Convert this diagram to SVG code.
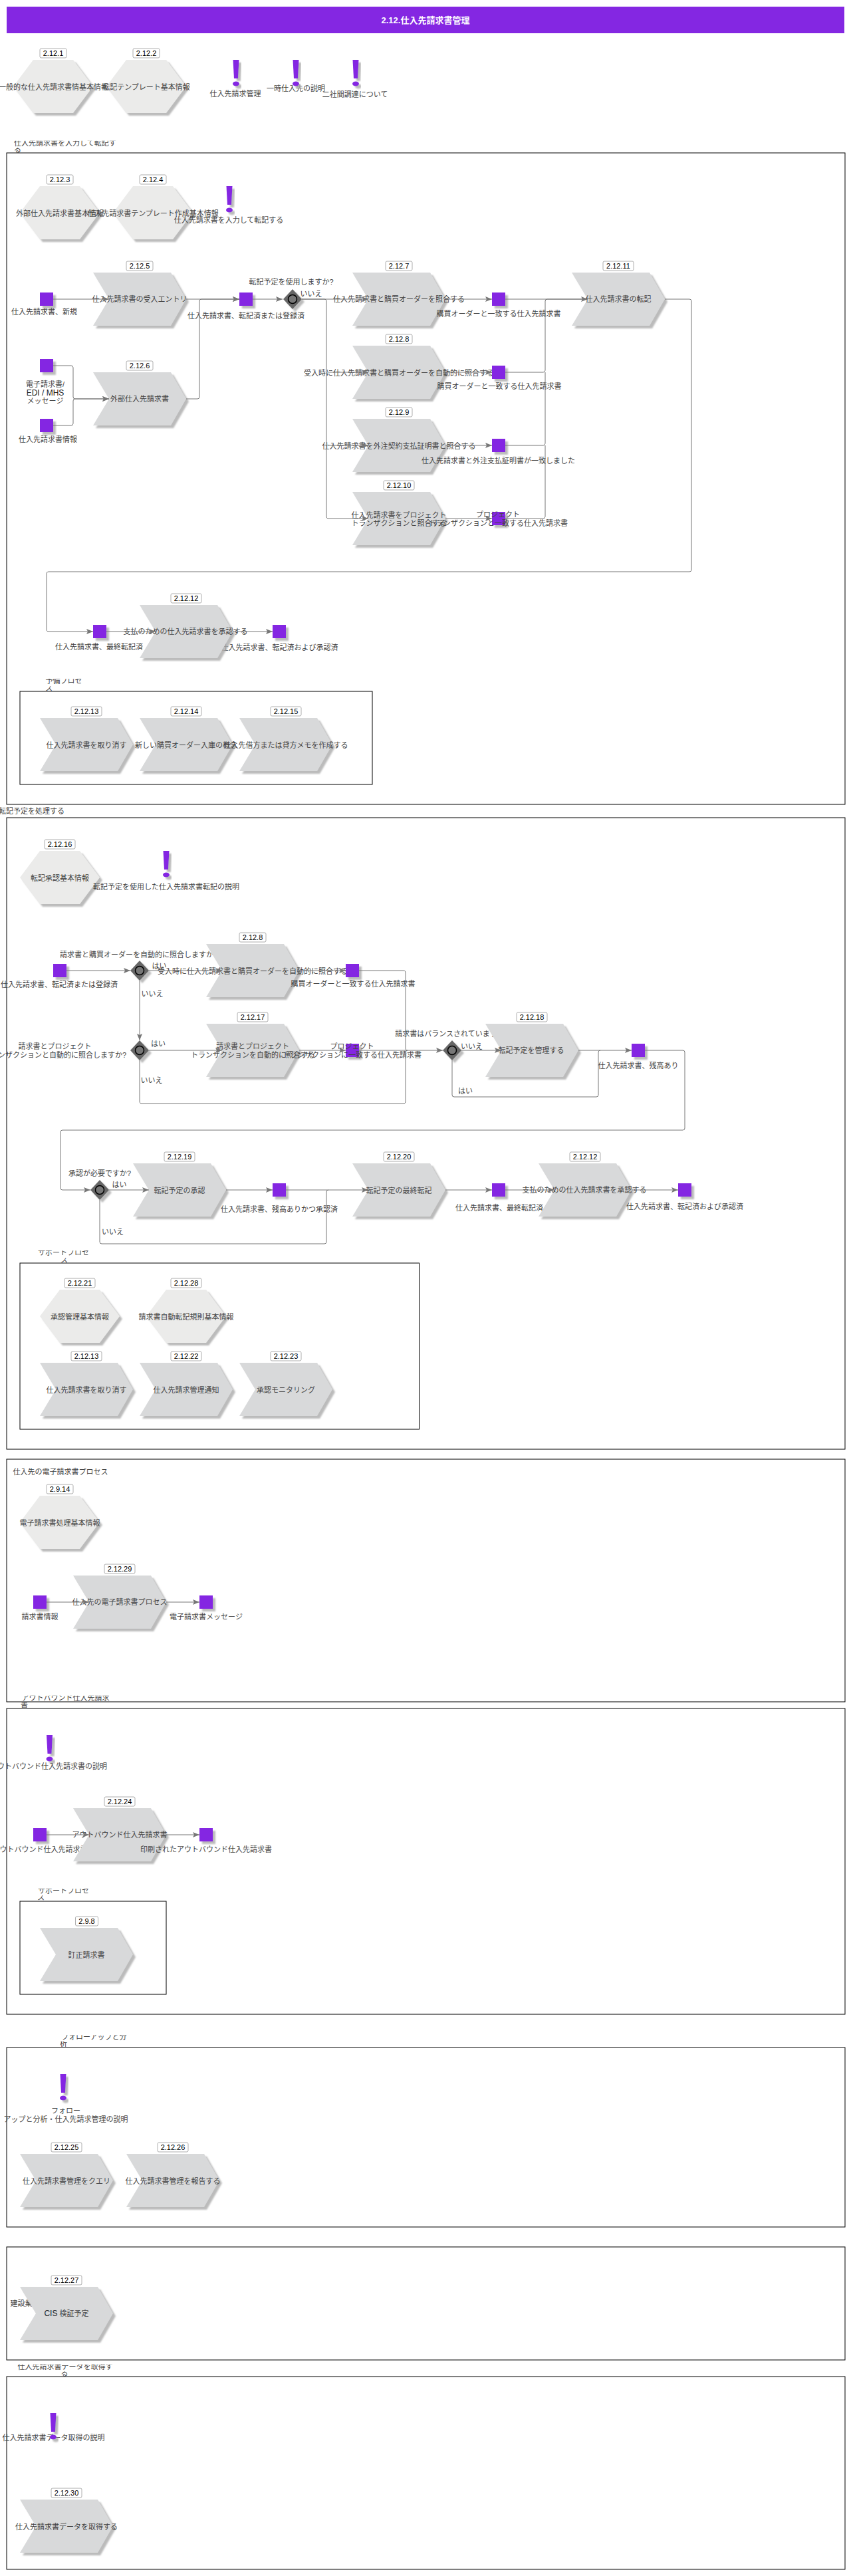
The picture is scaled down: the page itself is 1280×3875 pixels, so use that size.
<svg xmlns="http://www.w3.org/2000/svg" width="1280" height="3875" viewBox="0 0 1280 3875">
<style>
text{font-family:"Liberation Sans","Noto Sans CJK JP",sans-serif;font-size:11px;fill:#444}
.t,.lt{text-anchor:middle}
.lt{fill:#000}
.la{font-size:12px;fill:#222}
.ti{font-size:13px;font-weight:bold;fill:#fff;text-anchor:middle}
.ft{clip-path:url(#cut)}
.fr{fill:none;stroke:#000;stroke-width:1}
.ch{fill:#d8d9da}.hx{fill:#ebebea}.da{fill:#8427e2}.no{fill:#8427e2}
.sh{filter:url(#s)}
.lb{fill:#fff;stroke:#999;stroke-width:.8}
#connectors path{fill:none;stroke:#777;stroke-width:1}
.ar{marker-end:url(#arrow)}
</style>
<defs>
<filter id="s" x="-20%" y="-20%" width="150%" height="150%"><feDropShadow dx="4" dy="4" stdDeviation="1.2" flood-color="#aaa" flood-opacity=".8"/></filter>
<clipPath id="cut" clipPathUnits="objectBoundingBox"><rect x="-.1" y=".28" width="1.2" height="1"/></clipPath>
<marker id="arrow" markerUnits="userSpaceOnUse" markerWidth="10" markerHeight="8" refX="10" refY="4" orient="auto"><path d="M0 0L10 4L0 8L2 4Z" fill="#777"/></marker>
<polygon id="chev" points="0,0 117,0 140,40 117,80 0,80 24,40"/>
<polygon id="hex" points="0,40 30,0 90,0 120,40 90,80 30,80"/>
<g id="note"><polygon points="-4.5,0 4.5,0 3,28 -3,28"/><ellipse cy="36" rx="5" ry="3.5"/></g>
<rect id="data" width="20" height="20"/>
<g id="dia"><polygon points="0,-15 14,0 0,15 -14,0" fill="#666"/><circle r="6.5" fill="#777" stroke="#000" stroke-width="1.5"/></g>
<rect id="lb40" width="40" height="14" rx="2"/>
<rect id="lb46" width="46" height="14" rx="2"/>
</defs>

<g id="frames">
<rect class="fr" x="10" y="230" width="1261" height="980"/>
<rect class="fr" x="30" y="1040" width="530" height="140"/>
<rect class="fr" x="10" y="1230" width="1261" height="950"/>
<rect class="fr" x="30" y="1900" width="600.5" height="250"/>
<rect class="fr" x="10" y="2195" width="1261" height="365"/>
<rect class="fr" x="10" y="2570" width="1261" height="460"/>
<rect class="fr" x="30" y="2860" width="220" height="140"/>
<rect class="fr" x="10" y="3080" width="1261" height="270"/>
<rect class="fr" x="10" y="3380" width="1261" height="170"/>
<rect class="fr" x="10" y="3575" width="1261" height="290"/>
</g>

<g id="title"><rect x="10" y="10" width="1260" height="40" fill="#8427e2"/><text class="ti" x="640" y="35">2.12.仕入先請求書管理</text></g>

<g id="frame-titles">
<text class="ft" x="21" y="219">仕入先請求書を入力して転記す</text><text class="ft" x="21" y="229">る</text>
<text class="ft" x="68.5" y="1028">予備プロセ</text><text class="ft" x="68" y="1039">ス</text>
<text x="-2" y="1224">転記予定を処理する</text>
<text class="ft" x="57" y="1888">サポートプロセ</text><text class="ft" x="91" y="1899">ス</text>
<text x="19.6" y="2218">仕入先の電子請求書プロセス</text>
<text class="ft" x="32.5" y="2558">アウトバウンド仕入先請求</text><text class="ft" x="31" y="2568">書</text>
<text class="ft" x="57" y="2848">サポートプロセ</text><text class="ft" x="56" y="2858">ス</text>
<text class="ft" x="92" y="3068">フォローアップと分</text><text class="ft" x="90" y="3078">析</text>
<text x="15.5" y="3469">建設業</text>
<text class="ft" x="26.5" y="3564">仕入先請求書データを取得す</text><text class="ft" x="91.5" y="3574">る</text>
</g>

<g id="n2_12_1"><use href="#hex" class="hx sh" x="20" y="90"/><use href="#lb40" class="lb" x="60" y="73"/><text class="lt" x="80" y="84">2.12.1</text><text class="t" x="80.5" y="135">一般的な仕入先請求書情基本情報</text></g>
<g id="n2_12_2"><use href="#hex" class="hx sh" x="160" y="90"/><use href="#lb40" class="lb" x="200" y="73"/><text class="lt" x="220" y="84">2.12.2</text><text class="t" x="220" y="135">転記テンプレート基本情報</text></g>
<g id="note1"><text class="t" x="354" y="145">仕入先請求管理</text><use href="#note" class="no sh" x="355" y="90"/></g>
<g id="note2"><text class="t" x="445" y="137">一時仕入先の説明</text><use href="#note" class="no sh" x="445" y="90"/></g>
<g id="note3"><text class="t" x="534" y="146">二社間調達について</text><use href="#note" class="no sh" x="535" y="90"/></g>

<g id="n2_12_3"><use href="#hex" class="hx sh" x="30" y="280"/><use href="#lb40" class="lb" x="70" y="263"/><text class="lt" x="90" y="274">2.12.3</text><text class="t" x="90" y="325">外部仕入先請求書基本情報</text></g>
<g id="n2_12_4"><use href="#hex" class="hx sh" x="170" y="280"/><use href="#lb40" class="lb" x="210" y="263"/><text class="lt" x="230" y="274">2.12.4</text><text class="t" x="230" y="325">仕入先請求書テンプレート作成基本情報</text></g>
<g id="note4"><use href="#note" class="no sh" x="345" y="280"/><text class="t" x="344" y="335">仕入先請求書を入力して転記する</text></g>

<g id="d1"><use href="#data" class="da sh" x="60" y="440"/><text class="t" x="66.5" y="473">仕入先請求書、新規</text></g>
<g id="n2_12_5"><use href="#chev" class="ch sh" x="140" y="410"/><use href="#lb40" class="lb" x="190" y="393"/><text class="lt" x="210" y="404">2.12.5</text><text class="t" x="210" y="454">仕入先請求書の受入エントリ</text></g>
<g id="d2"><use href="#data" class="da sh" x="60" y="540"/><text class="t" x="68" y="582">電子請求書/</text><text class="t la" x="68" y="595">EDI / MHS</text><text class="t" x="68" y="607">メッセージ</text></g>
<g id="d3"><use href="#data" class="da sh" x="60" y="630"/><text class="t" x="72" y="665">仕入先請求書情報</text></g>
<g id="n2_12_6"><use href="#chev" class="ch sh" x="140" y="560"/><use href="#lb40" class="lb" x="190" y="543"/><text class="lt" x="210" y="554">2.12.6</text><text class="t" x="210" y="604">外部仕入先請求書</text></g>
<g id="d4"><use href="#data" class="da sh" x="360" y="440"/><text class="t" x="370" y="479">仕入先請求書、転記済または登録済</text></g>
<g id="g1"><use href="#dia" class="sh" x="440" y="450"/><text class="t" x="438" y="428">転記予定を使用しますか?</text><text class="t" x="468" y="446">いいえ</text></g>
<g id="n2_12_7"><use href="#chev" class="ch sh" x="530" y="410"/><use href="#lb40" class="lb" x="580" y="393"/><text class="lt" x="600" y="404">2.12.7</text><text class="t" x="600" y="454">仕入先請求書と購買オーダーを照合する</text></g>
<g id="n2_12_8"><use href="#chev" class="ch sh" x="530" y="520"/><use href="#lb40" class="lb" x="580" y="503"/><text class="lt" x="600" y="514">2.12.8</text><text class="t" x="600" y="565">受入時に仕入先請求書と購買オーダーを自動的に照合する</text></g>
<g id="n2_12_9"><use href="#chev" class="ch sh" x="530" y="630"/><use href="#lb40" class="lb" x="580" y="613"/><text class="lt" x="600" y="624">2.12.9</text><text class="t" x="600" y="675">仕入先請求書を外注契約支払証明書と照合する</text></g>
<g id="n2_12_10"><use href="#chev" class="ch sh" x="530" y="740"/><use href="#lb46" class="lb" x="577" y="723"/><text class="lt" x="600" y="734">2.12.10</text><text class="t" x="600" y="779">仕入先請求書をプロジェクト</text><text class="t" x="600" y="791">トランザクションと照合する</text></g>
<g id="d5"><use href="#data" class="da sh" x="740" y="440"/><text class="t" x="750" y="476">購買オーダーと一致する仕入先請求書</text></g>
<g id="d6"><use href="#data" class="da sh" x="740" y="550"/><text class="t" x="751" y="585">購買オーダーと一致する仕入先請求書</text></g>
<g id="d7"><use href="#data" class="da sh" x="740" y="660"/><text class="t" x="749.5" y="697">仕入先請求書と外注支払証明書が一致しました</text></g>
<g id="d8"><use href="#data" class="da sh" x="740" y="770"/><text class="t" x="749" y="778">プロジェクト</text><text class="t" x="749.5" y="791">トランザクションと一致する仕入先請求書</text></g>
<g id="n2_12_11"><use href="#chev" class="ch sh" x="860" y="410"/><use href="#lb46" class="lb" x="907" y="393"/><text class="lt" x="930" y="404">2.12.11</text><text class="t" x="930" y="454">仕入先請求書の転記</text></g>
<g id="d9"><use href="#data" class="da sh" x="140" y="940"/><text class="t" x="149" y="977">仕入先請求書、最終転記済</text></g>
<g id="d10"><use href="#data" class="da sh" x="410" y="940"/><text class="t" x="420.5" y="978">仕入先請求書、転記済および承認済</text></g>
<g id="n2_12_12"><use href="#chev" class="ch sh" x="210" y="910"/><use href="#lb46" class="lb" x="257" y="893"/><text class="lt" x="280" y="904">2.12.12</text><text class="t" x="279" y="954">支払のための仕入先請求書を承認する</text></g>

<g id="n2_12_13"><use href="#chev" class="ch sh" x="60" y="1080"/><use href="#lb46" class="lb" x="107" y="1063"/><text class="lt" x="130" y="1074">2.12.13</text><text class="t" x="130" y="1125">仕入先請求書を取り消す</text></g>
<g id="n2_12_14"><use href="#chev" class="ch sh" x="210" y="1080"/><use href="#lb46" class="lb" x="257" y="1063"/><text class="lt" x="280" y="1074">2.12.14</text><text class="t" x="280" y="1125">新しい購買オーダー入庫の概念</text></g>
<g id="n2_12_15"><use href="#chev" class="ch sh" x="360" y="1080"/><use href="#lb46" class="lb" x="407" y="1063"/><text class="lt" x="430" y="1074">2.12.15</text><text class="t" x="430" y="1125">仕入先借方または貸方メモを作成する</text></g>

<g id="n2_12_16"><use href="#hex" class="hx sh" x="30" y="1280"/><use href="#lb46" class="lb" x="67" y="1263"/><text class="lt" x="90" y="1274">2.12.16</text><text class="t" x="90" y="1325">転記承認基本情報</text></g>
<g id="note5"><text class="t" x="250" y="1338">転記予定を使用した仕入先請求書転記の説明</text><use href="#note" class="no sh" x="250" y="1280"/></g>
<g id="d11"><use href="#data" class="da sh" x="80" y="1450"/><text class="t" x="89" y="1485">仕入先請求書、転記済または登録済</text></g>
<g id="g2"><use href="#dia" class="sh" x="210" y="1460"/><text class="t" x="208.5" y="1440">請求書と購買オーダーを自動的に照合しますか?</text><text class="t" x="239.5" y="1457">はい</text><text class="t" x="229" y="1499">いいえ</text></g>
<g id="n2_12_8b"><use href="#chev" class="ch sh" x="310" y="1420"/><use href="#lb40" class="lb" x="360" y="1403"/><text class="lt" x="380" y="1414">2.12.8</text><text class="t" x="380" y="1465">受入時に仕入先請求書と購買オーダーを自動的に照合する</text></g>
<g id="d12"><use href="#data" class="da sh" x="520" y="1450"/><text class="t" x="531" y="1484">購買オーダーと一致する仕入先請求書</text></g>
<g id="g3"><use href="#dia" class="sh" x="210" y="1580"/><text class="t" x="82.5" y="1578">請求書とプロジェクト</text><text class="t" x="82.5" y="1591">トランザクションと自動的に照合しますか?</text><text class="t" x="238" y="1574">はい</text><text class="t" x="228" y="1629">いいえ</text></g>
<g id="n2_12_17"><use href="#chev" class="ch sh" x="310" y="1540"/><use href="#lb46" class="lb" x="357" y="1523"/><text class="lt" x="380" y="1534">2.12.17</text><text class="t" x="380" y="1578">請求書とプロジェクト</text><text class="t" x="380.5" y="1591">トランザクションを自動的に照合する</text></g>
<g id="d13"><use href="#data" class="da sh" x="520" y="1570"/><text class="t" x="529.5" y="1578">プロジェクト</text><text class="t" x="529.5" y="1591">トランザクションに一致する仕入先請求書</text></g>
<g id="g4"><use href="#dia" class="sh" x="680" y="1580"/><text class="t" x="679.5" y="1559">請求書はバランスされていますか?</text><text class="t" x="709.5" y="1578">いいえ</text><text class="t" x="700" y="1645">はい</text></g>
<g id="n2_12_18"><use href="#chev" class="ch sh" x="730" y="1540"/><use href="#lb46" class="lb" x="777" y="1523"/><text class="lt" x="800" y="1534">2.12.18</text><text class="t" x="799" y="1584">転記予定を管理する</text></g>
<g id="d14"><use href="#data" class="da sh" x="950" y="1570"/><text class="t" x="960" y="1607">仕入先請求書、残高あり</text></g>
<g id="g5"><use href="#dia" class="sh" x="150" y="1790"/><text class="t" x="150" y="1769">承認が必要ですか?</text><text class="t" x="179.5" y="1786">はい</text><text class="t" x="169.5" y="1857">いいえ</text></g>
<g id="n2_12_19"><use href="#chev" class="ch sh" x="200" y="1750"/><use href="#lb46" class="lb" x="247" y="1733"/><text class="lt" x="270" y="1744">2.12.19</text><text class="t" x="270" y="1795">転記予定の承認</text></g>
<g id="d15"><use href="#data" class="da sh" x="410" y="1780"/><text class="t" x="420" y="1823">仕入先請求書、残高ありかつ承認済</text></g>
<g id="n2_12_20"><use href="#chev" class="ch sh" x="530" y="1750"/><use href="#lb46" class="lb" x="577" y="1733"/><text class="lt" x="600" y="1744">2.12.20</text><text class="t" x="600" y="1795">転記予定の最終転記</text></g>
<g id="d16"><use href="#data" class="da sh" x="740" y="1780"/><text class="t" x="751" y="1821">仕入先請求書、最終転記済</text></g>
<g id="n2_12_12b"><use href="#chev" class="ch sh" x="810" y="1750"/><use href="#lb46" class="lb" x="857" y="1733"/><text class="lt" x="880" y="1744">2.12.12</text><text class="t" x="879" y="1794">支払のための仕入先請求書を承認する</text></g>
<g id="d17"><use href="#data" class="da sh" x="1020" y="1780"/><text class="t" x="1030" y="1819">仕入先請求書、転記済および承認済</text></g>

<g id="n2_12_21"><use href="#hex" class="hx sh" x="60" y="1940"/><use href="#lb46" class="lb" x="97" y="1923"/><text class="lt" x="120" y="1934">2.12.21</text><text class="t" x="120" y="1985">承認管理基本情報</text></g>
<g id="n2_12_28"><use href="#hex" class="hx sh" x="220" y="1940"/><use href="#lb46" class="lb" x="257" y="1923"/><text class="lt" x="280" y="1934">2.12.28</text><text class="t" x="280" y="1985">請求書自動転記規則基本情報</text></g>
<g id="n2_12_13b"><use href="#chev" class="ch sh" x="60" y="2050"/><use href="#lb46" class="lb" x="107" y="2033"/><text class="lt" x="130" y="2044">2.12.13</text><text class="t" x="130" y="2095">仕入先請求書を取り消す</text></g>
<g id="n2_12_22"><use href="#chev" class="ch sh" x="210" y="2050"/><use href="#lb46" class="lb" x="257" y="2033"/><text class="lt" x="280" y="2044">2.12.22</text><text class="t" x="280" y="2095">仕入先請求管理通知</text></g>
<g id="n2_12_23"><use href="#chev" class="ch sh" x="360" y="2050"/><use href="#lb46" class="lb" x="407" y="2033"/><text class="lt" x="430" y="2044">2.12.23</text><text class="t" x="430" y="2095">承認モニタリング</text></g>

<g id="n2_9_14"><use href="#hex" class="hx sh" x="30" y="2250"/><use href="#lb40" class="lb" x="70" y="2233"/><text class="lt" x="90" y="2244">2.9.14</text><text class="t" x="90" y="2295">電子請求書処理基本情報</text></g>
<g id="d18"><use href="#data" class="da sh" x="50" y="2400"/><text class="t" x="60" y="2436">請求書情報</text></g>
<g id="n2_12_29"><use href="#chev" class="ch sh" x="110" y="2370"/><use href="#lb46" class="lb" x="157" y="2353"/><text class="lt" x="180" y="2364">2.12.29</text><text class="t" x="180" y="2414">仕入先の電子請求書プロセス</text></g>
<g id="d19"><use href="#data" class="da sh" x="300" y="2400"/><text class="t" x="310" y="2436">電子請求書メッセージ</text></g>

<g id="note6"><use href="#note" class="no sh" x="74.5" y="2610"/><text class="t" x="73" y="2661">アウトバウンド仕入先請求書の説明</text></g>
<g id="d20"><use href="#data" class="da sh" x="50" y="2750"/><text class="t" x="60" y="2786">アウトバウンド仕入先請求書</text></g>
<g id="n2_12_24"><use href="#chev" class="ch sh" x="110" y="2720"/><use href="#lb46" class="lb" x="157" y="2703"/><text class="lt" x="180" y="2714">2.12.24</text><text class="t" x="180" y="2764">アウトバウンド仕入先請求書</text></g>
<g id="d21"><use href="#data" class="da sh" x="300" y="2750"/><text class="t" x="310" y="2786">印刷されたアウトバウンド仕入先請求書</text></g>
<g id="n2_9_8"><use href="#chev" class="ch sh" x="60" y="2900"/><rect class="lb" x="113.5" y="2883" width="34" height="14" rx="2"/><text class="lt" x="130.5" y="2894">2.9.8</text><text class="t" x="130" y="2945">訂正請求書</text></g>

<g id="note7"><use href="#note" class="no sh" x="95" y="3120"/><text class="t" x="99" y="3179">フォロー</text><text class="t" x="99" y="3192">アップと分析・仕入先請求管理の説明</text></g>
<g id="n2_12_25"><use href="#chev" class="ch sh" x="30" y="3240"/><use href="#lb46" class="lb" x="77" y="3223"/><text class="lt" x="100" y="3234">2.12.25</text><text class="t" x="100" y="3285">仕入先請求書管理をクエリ</text></g>
<g id="n2_12_26"><use href="#chev" class="ch sh" x="190" y="3240"/><use href="#lb46" class="lb" x="237" y="3223"/><text class="lt" x="260" y="3234">2.12.26</text><text class="t" x="260" y="3285">仕入先請求書管理を報告する</text></g>
<g id="n2_12_27"><use href="#chev" class="ch sh" x="30" y="3440"/><use href="#lb46" class="lb" x="77" y="3423"/><text class="lt" x="100" y="3434">2.12.27</text><text class="t" x="100" y="3484"><tspan class="la">CIS</tspan> 検証予定</text></g>
<g id="note8"><text class="t" x="80.5" y="3671">仕入先請求書データ取得の説明</text><use href="#note" class="no sh" x="80" y="3630"/></g>
<g id="n2_12_30"><use href="#chev" class="ch sh" x="30" y="3760"/><use href="#lb46" class="lb" x="77" y="3743"/><text class="lt" x="100" y="3754">2.12.30</text><text class="t" x="100" y="3805">仕入先請求書データを取得する</text></g>

<g id="connectors">
<path class="ar" d="M80 450H164"/>
<path class="ar" d="M80 550H107Q110 550 110 553V597Q110 600 113 600H164"/>
<path class="ar" d="M80 640H107Q110 640 110 637V603Q110 600 113 600H164"/>
<path class="ar" d="M280 450H360"/>
<path class="ar" d="M280 600H297Q300 600 300 597V453Q300 450 303 450H360"/>
<path class="ar" d="M380 450H425"/>
<path class="ar" d="M454 450H554"/>
<path class="ar" d="M454 450H488Q491 450 491 453V557Q491 560 494 560H554"/>
<path class="ar" d="M491 560V667Q491 670 494 670H554"/>
<path class="ar" d="M491 670V777Q491 780 494 780H554"/>
<path class="ar" d="M670 450H740"/>
<path class="ar" d="M670 560H740"/>
<path class="ar" d="M670 670H740"/>
<path class="ar" d="M670 780H740"/>
<path class="ar" d="M760 450H884"/>
<path d="M760 560H817Q820 560 820 557V453Q820 450 823 450H884"/>
<path d="M760 670H817Q820 670 820 667V560"/>
<path d="M760 780H817Q820 780 820 777V670"/>
<path class="ar" d="M1000 450H1037Q1040 450 1040 453V857Q1040 860 1037 860H73Q70 860 70 863V947Q70 950 73 950H140"/>
<path class="ar" d="M160 950H234"/>
<path class="ar" d="M350 950H410"/>
<path class="ar" d="M100 1460H196"/>
<path class="ar" d="M224 1460H334"/>
<path class="ar" d="M450 1460H520"/>
<path class="ar" d="M210 1475V1565"/>
<path class="ar" d="M224 1580H334"/>
<path class="ar" d="M450 1580H520"/>
<path class="ar" d="M540 1580H666"/>
<path d="M540 1460H607Q610 1460 610 1463V1577Q610 1580 613 1580"/>
<path d="M210 1595V1657Q210 1660 213 1660H607Q610 1660 610 1657V1583Q610 1580 613 1580"/>
<path class="ar" d="M694 1580H754"/>
<path class="ar" d="M870 1580H950"/>
<path d="M680 1595V1647Q680 1650 683 1650H897Q900 1650 900 1647V1583Q900 1580 903 1580"/>
<path class="ar" d="M970 1580H1027Q1030 1580 1030 1583V1697Q1030 1700 1027 1700H94Q91 1700 91 1703V1787Q91 1790 94 1790H136"/>
<path class="ar" d="M164 1790H224"/>
<path class="ar" d="M340 1790H410"/>
<path class="ar" d="M430 1790H554"/>
<path d="M150 1805V1868Q150 1871 153 1871H488Q491 1871 491 1868V1793Q491 1790 494 1790"/>
<path class="ar" d="M670 1790H740"/>
<path class="ar" d="M760 1790H834"/>
<path class="ar" d="M950 1790H1020"/>
<path class="ar" d="M70 2410H134"/>
<path class="ar" d="M250 2410H300"/>
<path class="ar" d="M70 2760H134"/>
<path class="ar" d="M250 2760H300"/>
</g>
</svg>
